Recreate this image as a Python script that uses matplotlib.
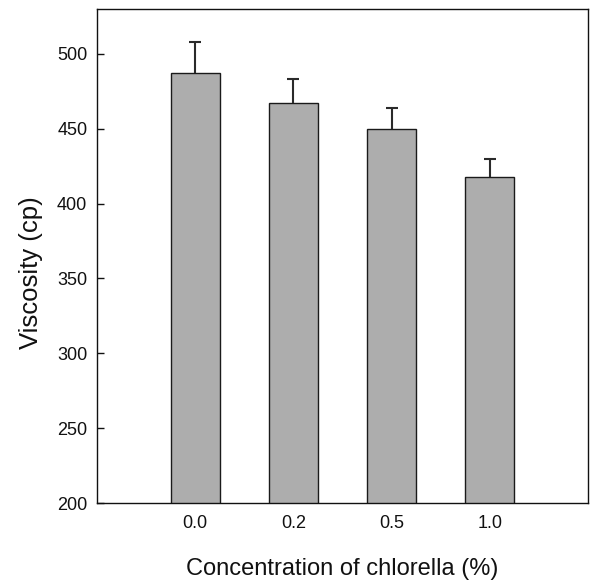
import matplotlib
matplotlib.use("Agg")
import matplotlib.pyplot as plt

categories = ["0.0", "0.2", "0.5", "1.0"]
viscosity = [487, 467, 450, 418]
errors = [21, 16, 14, 11.5]
yticks = [200, 250, 300, 350, 400, 450, 500]

plt.rcParams['font.family'] = ['Liberation Sans', 'DejaVu Sans']

fig = plt.figure(figsize=(5.9, 5.82), dpi=100)
ax = fig.add_axes([97/590, 1-503/582, (588-97)/590, (503-9)/582])

x = list(range(len(categories)))
ax.bar(x, viscosity, width=0.5, color='#adadad', edgecolor='#1a1a1a', linewidth=1.0, zorder=2)
eb = ax.errorbar(x, viscosity, yerr=[[0]*len(errors), errors], fmt='none',
                 ecolor='#2a2a2a', elinewidth=1.5, capsize=4.3, capthick=1.5, zorder=3)
# keep only the upper caps
caplines = eb[1]
if len(caplines) >= 2:
    caplines[0].set_visible(False)

ax.set_xlim(-1, 4)
ax.set_ylim(200, 530)
ax.set_yticks(yticks)
ax.set_xticks(x)
ax.set_xticklabels(categories)

ax.tick_params(axis='y', direction='in', length=5, width=1, pad=7, labelsize=13, colors='#111111')
ax.tick_params(axis='x', length=0, pad=8.5, labelsize=13, colors='#111111')

for s in ax.spines.values():
    s.set_linewidth(1.0)
    s.set_color('#111111')

ax.set_xlabel("Concentration of chlorella (%)", fontsize=17, color='#111111')
ax.xaxis.label.set_va('baseline')
ax.xaxis.set_label_coords(0.5, -(575-503)/494)

ax.set_ylabel("Viscosity (cp)", fontsize=18.5, color='#111111')
ax.yaxis.label.set_va('baseline')
ax.yaxis.set_label_coords((37.7-97)/491, 1-(272.5-9)/494)

fig.savefig("out.png", dpi=100)
